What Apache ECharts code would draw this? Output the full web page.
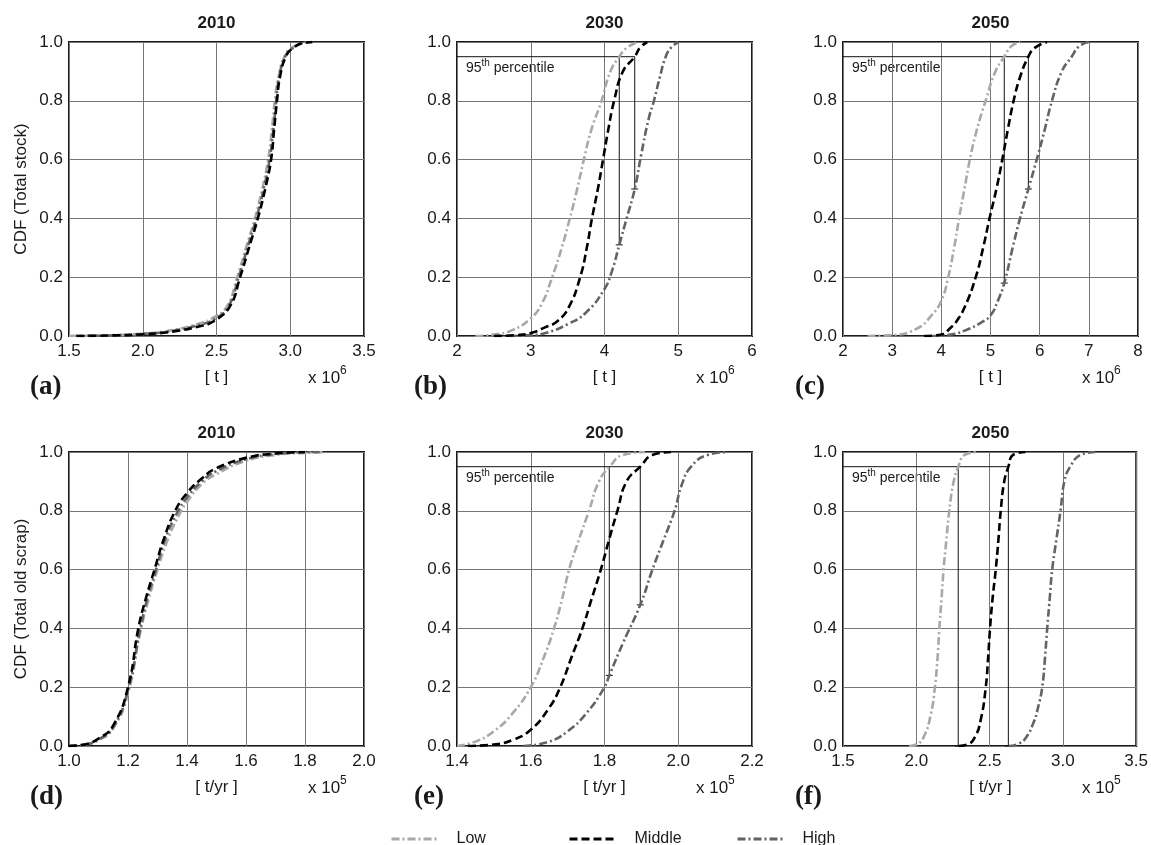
<!DOCTYPE html>
<html>
<head>
<meta charset="utf-8">
<script src="https://cdn.jsdelivr.net/npm/echarts@6/dist/echarts.min.js"></script>
<style>
  html, body { margin: 0; padding: 0; background: #fff; }
  #chart { width: 1151px; height: 845px; }
</style>
</head>
<body>
<div id="chart"></div>
<script>
// panel settings
const panelTitles = ['2010', '2030', '2050', '2010', '2030', '2050'];
const panelLetters = ['(a)', '(b)', '(c)', '(d)', '(e)', '(f)'];
const xMins = [1.5, 2, 2, 1.0, 1.4, 1.5];
const xMaxs = [3.5, 6, 8, 2.0, 2.2, 3.5];
const xSteps = [0.5, 1, 1, 0.2, 0.2, 0.5];
const xDecimals = [1, 0, 0, 1, 1, 1];
const xUnits = ['[ t ]', '[ t ]', '[ t ]', '[ t/yr ]', '[ t/yr ]', '[ t/yr ]'];
const xExponents = ['6', '6', '6', '5', '5', '5'];
const yNames = ['CDF (Total stock)', 'CDF (Total old scrap)'];
const seriesNames = ['Low', 'Middle', 'High'];

// (a) total stock 2010
const stock2010Low = [[1.5,0],[1.8,0.003],[2.0,0.008],[2.2,0.02],[2.4,0.045],[2.47,0.06],[2.57,0.1],[2.64,0.2],[2.7,0.3],[2.76,0.4],[2.81,0.5],[2.85,0.6],[2.875,0.7],[2.895,0.8],[2.92,0.88],[2.96,0.95],[3.01,0.98],[3.1,0.998],[3.15,1.0]];
const stock2010Mid = [[1.55,0],[1.8,0.002],[2.0,0.006],[2.2,0.015],[2.4,0.035],[2.48,0.05],[2.59,0.1],[2.66,0.2],[2.72,0.3],[2.78,0.4],[2.83,0.5],[2.87,0.6],[2.89,0.7],[2.91,0.8],[2.93,0.88],[2.97,0.95],[3.02,0.98],[3.1,0.998],[3.15,1.0]];
const stock2010High = [[1.55,0],[1.8,0.002],[2.0,0.007],[2.2,0.017],[2.4,0.04],[2.48,0.055],[2.58,0.1],[2.65,0.2],[2.71,0.3],[2.77,0.4],[2.82,0.5],[2.86,0.6],[2.885,0.7],[2.905,0.8],[2.925,0.88],[2.965,0.95],[3.02,0.98],[3.1,0.998],[3.15,1.0]];

// (b) total stock 2030
const stock2030Low = [[2.25,0],[2.5,0.005],[2.75,0.02],[3.0,0.06],[3.15,0.11],[3.29,0.2],[3.42,0.3],[3.53,0.4],[3.63,0.5],[3.72,0.6],[3.82,0.7],[3.96,0.8],[4.08,0.9],[4.2,0.95],[4.3,0.98],[4.45,1.0]];
const stock2030Mid = [[2.5,0],[2.8,0.003],[3.0,0.01],[3.2,0.03],[3.36,0.05],[3.52,0.1],[3.67,0.2],[3.76,0.3],[3.83,0.4],[3.91,0.5],[3.98,0.6],[4.05,0.7],[4.13,0.8],[4.25,0.9],[4.41,0.95],[4.48,0.98],[4.58,1.0]];
const stock2030High = [[2.7,0],[3.0,0.003],[3.2,0.01],[3.5,0.04],[3.75,0.08],[4.0,0.16],[4.1,0.22],[4.2,0.31],[4.3,0.4],[4.41,0.5],[4.5,0.62],[4.6,0.74],[4.67,0.8],[4.75,0.88],[4.83,0.95],[4.9,0.98],[5.0,1.0]];

// (c) total stock 2050
const stock2050Low = [[2.5,0],[3.0,0.003],[3.5,0.025],[3.8,0.07],[4.0,0.12],[4.14,0.2],[4.26,0.3],[4.36,0.4],[4.47,0.5],[4.58,0.6],[4.72,0.7],[4.9,0.8],[5.1,0.9],[5.28,0.95],[5.42,0.985],[5.6,1.0]];
const stock2050Mid = [[3.65,0],[4.0,0.005],[4.2,0.03],[4.31,0.05],[4.48,0.1],[4.7,0.2],[4.85,0.3],[4.98,0.4],[5.12,0.5],[5.24,0.6],[5.35,0.7],[5.47,0.8],[5.6,0.88],[5.77,0.95],[5.9,0.98],[6.15,1.0]];
const stock2050High = [[3.8,0],[4.2,0.005],[4.5,0.02],[4.8,0.045],[5.0,0.07],[5.15,0.12],[5.28,0.18],[5.45,0.3],[5.6,0.4],[5.77,0.5],[5.94,0.6],[6.1,0.7],[6.25,0.8],[6.45,0.9],[6.65,0.95],[6.8,0.985],[7.0,1.0]];

// (d) total old scrap 2010
const scrap2010Low = [[1.0,0],[1.05,0.004],[1.1,0.02],[1.15,0.06],[1.2,0.18],[1.24,0.38],[1.27,0.5],[1.3,0.6],[1.33,0.69],[1.37,0.78],[1.4,0.83],[1.45,0.89],[1.5,0.925],[1.6,0.97],[1.7,0.99],[1.8,0.997],[1.87,1.0]];
const scrap2010Mid = [[1.0,0],[1.05,0.005],[1.1,0.025],[1.15,0.07],[1.2,0.2],[1.235,0.4],[1.26,0.5],[1.29,0.6],[1.32,0.7],[1.36,0.8],[1.4,0.86],[1.45,0.91],[1.5,0.945],[1.6,0.98],[1.7,0.995],[1.8,1.0]];
const scrap2010High = [[1.0,0],[1.05,0.004],[1.1,0.022],[1.15,0.065],[1.2,0.19],[1.24,0.39],[1.265,0.5],[1.295,0.6],[1.325,0.7],[1.365,0.79],[1.4,0.845],[1.45,0.9],[1.5,0.935],[1.6,0.975],[1.7,0.993],[1.8,0.999],[1.85,1.0]];

// (e) total old scrap 2030
const scrap2030Low = [[1.4,0],[1.45,0.015],[1.5,0.05],[1.55,0.11],[1.6,0.2],[1.635,0.3],[1.663,0.4],[1.685,0.5],[1.704,0.6],[1.73,0.7],[1.758,0.8],[1.785,0.9],[1.814,0.95],[1.85,0.99],[1.91,1.0]];
const scrap2030Mid = [[1.43,0],[1.5,0.005],[1.55,0.02],[1.6,0.055],[1.65,0.13],[1.68,0.2],[1.71,0.3],[1.74,0.4],[1.765,0.5],[1.79,0.6],[1.812,0.7],[1.835,0.8],[1.86,0.9],[1.897,0.95],[1.93,0.99],[1.98,1.0]];
const scrap2030High = [[1.58,0],[1.65,0.015],[1.7,0.05],[1.75,0.11],[1.8,0.2],[1.813,0.24],[1.85,0.35],[1.897,0.48],[1.93,0.6],[1.96,0.7],[1.99,0.8],[2.01,0.89],[2.035,0.95],[2.08,0.99],[2.135,1.0]];

// (f) total old scrap 2050
const scrap2050Low = [[1.95,0],[2.0,0.005],[2.05,0.03],[2.1,0.11],[2.127,0.2],[2.145,0.3],[2.157,0.4],[2.172,0.5],[2.186,0.6],[2.205,0.7],[2.225,0.8],[2.255,0.9],[2.286,0.95],[2.33,0.99],[2.41,1.0]];
const scrap2050Mid = [[2.29,0],[2.35,0.005],[2.4,0.03],[2.44,0.09],[2.474,0.2],[2.49,0.3],[2.503,0.4],[2.52,0.5],[2.542,0.6],[2.56,0.7],[2.576,0.8],[2.6,0.9],[2.628,0.95],[2.66,0.99],[2.745,1.0]];
const scrap2050High = [[2.63,0],[2.7,0.008],[2.75,0.03],[2.8,0.08],[2.83,0.13],[2.859,0.2],[2.878,0.3],[2.893,0.4],[2.91,0.5],[2.927,0.6],[2.955,0.7],[2.984,0.8],[3.01,0.9],[3.05,0.95],[3.12,0.99],[3.22,1.0]];

// 95th percentile of Low and Middle, and where High sits at those x values
const p95Level = 0.95;
const p95X = [null, [4.2, 4.41], [5.28, 5.77], null, [1.813, 1.897], [2.286, 2.628]];
const p95HighY = [null, [0.31, 0.5], [0.18, 0.5], null, [0.24, 0.48], [0, 0]];

const panelData = [
  [stock2010Low, stock2010Mid, stock2010High],
  [stock2030Low, stock2030Mid, stock2030High],
  [stock2050Low, stock2050Mid, stock2050High],
  [scrap2010Low, scrap2010Mid, scrap2010High],
  [scrap2030Low, scrap2030Mid, scrap2030High],
  [scrap2050Low, scrap2050Mid, scrap2050High]
];

const FONT = '"Liberation Sans", Arial, sans-serif';
const TXT = '#1a1a1a';
const colLeft = [69, 457, 843];
const rowTop = [42, 452];
const gw = 295, gh = 294;
const lineColors = ['#a8a8a8', '#000000', '#636363'];
const lineDashes = [[8, 3, 2, 3], [8, 4], [8, 3, 2, 3]];

const grids = [], xAxes = [], yAxes = [], series = [], graphics = [];

for (let i = 0; i < 6; i++) {
  const left = colLeft[i % 3];
  const top = rowTop[Math.floor(i / 3)];
  grids.push({
    left: left, top: top, width: gw, height: gh,
    show: true, borderColor: '#1a1a1a', borderWidth: 2, backgroundColor: 'transparent'
  });
  const dec = xDecimals[i];
  xAxes.push({
    type: 'value', gridIndex: i,
    min: xMins[i], max: xMaxs[i], interval: xSteps[i],
    axisLine: { show: false }, axisTick: { show: false },
    axisLabel: { color: TXT, fontFamily: FONT, fontSize: 17, margin: 7,
      formatter: v => v.toFixed(dec) },
    splitLine: { show: true, lineStyle: { color: '#777', width: 1 } }
  });
  yAxes.push({
    type: 'value', gridIndex: i, min: 0, max: 1, interval: 0.2,
    axisLine: { show: false }, axisTick: { show: false },
    axisLabel: { color: TXT, fontFamily: FONT, fontSize: 17, margin: 6,
      formatter: v => v.toFixed(1) },
    splitLine: { show: true, lineStyle: { color: '#777', width: 1 } }
  });

  // CDF curves
  panelData[i].forEach((d, k) => {
    series.push({
      name: seriesNames[k], type: 'line', xAxisIndex: i, yAxisIndex: i,
      data: d, smooth: 0.5, symbol: 'none',
      z: 3 + (k === 1 ? 1 : 0),
      lineStyle: { color: lineColors[k], width: 2.6, type: lineDashes[k] },
      itemStyle: { color: lineColors[k] }
    });
  });

  // 95th percentile guides
  if (p95X[i]) {
    const px = p95X[i], py = p95HighY[i];
    const segs = [
      [[xMins[i], p95Level], [px[1], p95Level]],
      [[px[0], p95Level], [px[0], py[0]]],
      [[px[1], p95Level], [px[1], py[1]]]
    ];
    segs.forEach((s, j) => {
      series.push({
        name: 'p95', type: 'line', xAxisIndex: i, yAxisIndex: i,
        data: j === 0 ? s : [
          { value: s[0], symbol: 'none' },
          { value: s[1], symbol: 'rect', symbolSize: [7, 1] }
        ],
        symbol: 'none', silent: true, z: 2,
        lineStyle: { color: '#111', width: 1 },
        itemStyle: { color: '#111' }
      });
    });
    graphics.push({
      type: 'text', left: left + 9, top: top + 16,
      style: {
        text: '{n|95}{s|th}{n| percentile}',
        fill: TXT,
        rich: {
          n: { fontFamily: FONT, fontSize: 14, lineHeight: 17, verticalAlign: 'bottom', fill: TXT },
          s: { fontFamily: FONT, fontSize: 10, lineHeight: 17, verticalAlign: 'top', fill: TXT, padding: [0, 0, 7, 0] }
        }
      }
    });
  }

  // title
  graphics.push({
    type: 'text', x: left + gw / 2, y: top - 19,
    style: { text: panelTitles[i], fontFamily: FONT, fontSize: 17, fontWeight: 'bold',
      fill: TXT, align: 'center', verticalAlign: 'middle' }
  });
  // unit
  graphics.push({
    type: 'text', x: left + gw / 2, y: top + gh + 41,
    style: { text: xUnits[i], fontFamily: FONT, fontSize: 17, fill: TXT,
      align: 'center', verticalAlign: 'middle' }
  });
  // exponent
  graphics.push({
    type: 'text', x: left + gw - 56, y: top + gh + 42,
    style: { text: 'x 10', fontFamily: FONT, fontSize: 17, fill: TXT,
      align: 'left', verticalAlign: 'middle' }
  });
  graphics.push({
    type: 'text', x: left + gw - 24, y: top + gh + 35,
    style: { text: xExponents[i], fontFamily: FONT, fontSize: 12, fill: TXT,
      align: 'left', verticalAlign: 'middle' }
  });
  // panel letter
  graphics.push({
    type: 'text', x: [30, 414, 795][i % 3], y: top + gh + 51,
    style: { text: panelLetters[i], fontFamily: '"Liberation Serif", "Times New Roman", serif',
      fontSize: 27, fontWeight: 'bold', fill: TXT, align: 'left', verticalAlign: 'middle' }
  });
}

// y axis names
[0, 1].forEach(r => {
  graphics.push({
    type: 'text', x: 21, y: rowTop[r] + gh / 2, rotation: Math.PI / 2,
    style: { text: yNames[r], fontFamily: FONT, fontSize: 17, fill: TXT,
      align: 'center', verticalAlign: 'middle' }
  });
});

// one legend per entry so each sits where the original does
const legendLefts = [385, 563, 731];
const legends = seriesNames.map((n, k) => ({
  data: [n], left: legendLefts[k], top: 826, itemWidth: 46, itemHeight: 12,
  selectedMode: false,
  itemStyle: { opacity: 0 },
  lineStyle: { width: 3 },
  textStyle: { color: TXT, fontFamily: FONT, fontSize: 16, padding: [0, 0, 0, 14] }
}));

const chart = echarts.init(document.getElementById('chart'));
chart.setOption({
  backgroundColor: '#fff',
  animation: false,
  legend: legends,
  grid: grids,
  xAxis: xAxes,
  yAxis: yAxes,
  series: series,
  graphic: graphics
});
</script>
</body>
</html>
